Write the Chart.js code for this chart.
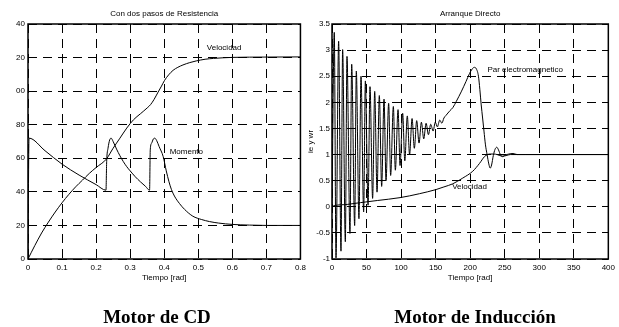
<!DOCTYPE html>
<html>
<head>
<meta charset="utf-8">
<script src="https://cdn.jsdelivr.net/npm/chart.js@4.4.0/dist/chart.umd.min.js"></script>
<style>
  body { margin: 0; background: #fff; width: 619px; height: 327px; overflow: hidden; position: relative; }
  canvas { position: absolute; top: 0; }
  #dc { left: 0; }
  #im { left: 300px; }
</style>
</head>
<body>
<canvas id="dc" width="310" height="327"></canvas>
<canvas id="im" width="319" height="327"></canvas>
<script>
// Motor de CD (two resistance steps)
const dcVelTime = [0, 0.02, 0.04, 0.06, 0.08, 0.1, 0.12, 0.14, 0.16, 0.18, 0.2, 0.23, 0.25, 0.27, 0.29, 0.31, 0.33, 0.35, 0.36, 0.37, 0.382, 0.392, 0.401, 0.413, 0.426, 0.44, 0.455, 0.475, 0.494, 0.52, 0.545, 0.6, 0.7, 0.8];
const dcVelocity = [0, 8, 15.5, 22, 28, 33.5, 38.5, 43, 47, 51, 54.5, 59.5, 66, 72, 78, 83, 86.5, 90, 92, 95, 99.4, 103, 106.4, 109.7, 112.4, 114.2, 115.6, 117, 118, 119, 119.5, 120.1, 120.3, 120.4];
const dcTorqueTime = [0, 0.003, 0.05, 0.1, 0.15, 0.2, 0.229, 0.231, 0.235, 0.24, 0.244, 0.25, 0.26, 0.27, 0.28, 0.29, 0.3, 0.315, 0.33, 0.345, 0.357, 0.359, 0.363, 0.368, 0.372, 0.378, 0.385, 0.397, 0.406, 0.414, 0.421, 0.43, 0.445, 0.46, 0.484, 0.51, 0.533, 0.56, 0.6, 0.65, 0.7, 0.8];
const dcTorque = [0, 72, 64.5, 56.5, 50, 44.3, 41, 58, 66, 71, 72, 70, 65.5, 61.5, 58, 55, 52.5, 49, 46, 43.3, 41, 65, 69, 71.5, 72, 70.5, 67, 61, 52.5, 46, 41.5, 37.5, 33, 29.5, 25.5, 23.5, 22.3, 21.4, 20.6, 20.2, 20, 20];
const dcTimeTicks = ['0', '0.1', '0.2', '0.3', '0.4', '0.5', '0.6', '0.7', '0.8'];
const dcLevelTicks = ['0', '20', '40', '60', '80', '00', '20', '40'];

// Motor de Inducción (direct start)
const imTorqueTime = [0, 3.3, 5.8, 9.6, 13, 15.4, 19.3, 21.7, 26, 28.5, 32.8, 35.2, 39, 42, 45.8, 48.3, 52.2, 55, 58.8, 61.8, 65.2, 68.5, 71.9, 75.3, 78.2, 82, 84.9, 88.8, 91.7, 95.6, 98.5, 102.3, 105.4, 109, 112.3, 115.9, 119.2, 122.6, 126, 129.4, 132.8, 136.2, 139.6, 142.9, 146.4, 149.5, 152.5, 156, 159, 162, 165, 170, 175, 180, 187, 194, 199, 203, 206, 209, 212, 214, 216, 218, 220, 222, 224.5, 227, 229, 231, 233.5, 236, 238.5, 241, 244, 247, 251, 256, 262, 268, 280, 400];
const imTorque = [0, 3.34, -0.98, 3.17, -0.85, 3.01, -0.67, 2.88, -0.51, 2.73, -0.36, 2.6, -0.23, 2.5, -0.1, 2.41, 0.03, 2.3, 0.16, 2.21, 0.28, 2.13, 0.39, 2.06, 0.5, 1.98, 0.6, 1.92, 0.7, 1.86, 0.79, 1.79, 0.88, 1.74, 1.0, 1.69, 1.12, 1.65, 1.22, 1.62, 1.3, 1.6, 1.38, 1.58, 1.45, 1.62, 1.53, 1.66, 1.6, 1.7, 1.75, 1.83, 1.9, 2.02, 2.2, 2.4, 2.55, 2.64, 2.67, 2.64, 2.5, 2.25, 1.95, 1.7, 1.45, 1.2, 1.0, 0.82, 0.74, 0.8, 0.98, 1.1, 1.14, 1.09, 0.99, 0.96, 0.99, 1.01, 1.02, 1.0, 1.0, 1.0];
const imVelTime = [0, 3, 22, 41.5, 65.6, 98.5, 126.5, 150.7, 162, 174.8, 189.3, 203.7, 213.5, 220.7, 225, 229, 234, 239, 243, 247, 252, 258, 270, 400];
const imVelocity = [0, 0.02, 0.045, 0.08, 0.12, 0.175, 0.25, 0.33, 0.38, 0.44, 0.55, 0.68, 0.83, 0.96, 1.0, 1.01, 1.01, 1.0, 0.98, 0.97, 0.98, 1.0, 1.0, 1.0];
const imTimeTicks = ['0', '50', '100', '150', '200', '250', '300', '350', '400'];
const imLevelTicks = ['-1', '-0.5', '0', '0.5', '1', '1.5', '2', '2.5', '3', '3.5'];

const pts = (xs, ys) => xs.map((x, i) => ({ x: x, y: ys[i] }));
const small = { family: '"Liberation Sans", Arial, sans-serif', size: 8 };

const framePlugin = {
  id: 'frame',
  afterDraw(chart, args, opts) {
    const { ctx, chartArea: a, scales } = chart;
    ctx.save();
    ctx.strokeStyle = '#000';
    ctx.lineWidth = 1.5;
    ctx.strokeRect(a.left, a.top, a.right - a.left, a.bottom - a.top);
    ctx.fillStyle = '#000';
    ctx.font = '8px "Liberation Sans", Arial, sans-serif';
    ctx.textAlign = 'center';
    ctx.textBaseline = 'middle';
    ctx.fillText(opts.title, (a.left + a.right) / 2, 14);
    ctx.textAlign = 'left';
    opts.notes.forEach(n => {
      ctx.fillText(n.text, scales.x.getPixelForValue(n.x), scales.y.getPixelForValue(n.y));
    });
    ctx.font = 'bold 19px "Liberation Serif", "Times New Roman", serif';
    ctx.textAlign = 'center';
    ctx.textBaseline = 'alphabetic';
    ctx.fillText(opts.caption, opts.captionX, 323);
    ctx.restore();
  }
};

function line(data) {
  return { data: data, borderColor: '#000', borderWidth: 1, pointRadius: 0, fill: false, cubicInterpolationMode: 'monotone' };
}

function axes(xMin, xMax, xStep, xLabels, yMin, yMax, yStep, yLabels, yWidth, yPad, yTitle) {
  return {
    x: {
      type: 'linear', min: xMin, max: xMax,
      afterFit: s => { s.height = 68; },
      grid: { color: '#000', lineWidth: 1, drawTicks: false },
      border: { display: false, dash: [9, 6] },
      ticks: { stepSize: xStep, padding: 4, color: '#000', font: small, maxRotation: 0,
        callback: v => xLabels[Math.round((v - xMin) / xStep)] },
      title: { display: true, text: 'Tiempo [rad]', color: '#000', font: small, padding: { top: 0, bottom: 44 } }
    },
    y: {
      min: yMin, max: yMax,
      afterFit: s => { s.width = yWidth; },
      grid: { color: '#000', lineWidth: 1, drawTicks: false },
      border: { display: false, dash: [9, 6] },
      ticks: { stepSize: yStep, padding: yPad, color: '#000', font: small,
        callback: v => yLabels[Math.round((v - yMin) / yStep)] },
      title: { display: !!yTitle, text: yTitle || '', color: '#000', font: small, padding: { top: 6, bottom: 0 } }
    }
  };
}

new Chart(document.getElementById('dc'), {
  type: 'line',
  data: { datasets: [line(pts(dcVelTime, dcVelocity)), line(pts(dcTorqueTime, dcTorque))] },
  options: {
    responsive: false,
    animation: false,
    layout: { padding: { left: 0, top: 24, right: 9, bottom: 0 } },
    plugins: {
      legend: { display: false },
      tooltip: { enabled: false },
      frame: {
        title: 'Con dos pasos de Resistencia',
        caption: 'Motor de CD', captionX: 157,
        notes: [{ text: 'Velocidad', x: 0.525, y: 126 }, { text: 'Momento', x: 0.416, y: 64 }]
      }
    },
    scales: axes(0, 0.8, 0.1, dcTimeTicks, 0, 140, 20, dcLevelTicks, 28, 3, null)
  },
  plugins: [framePlugin]
});

new Chart(document.getElementById('im'), {
  type: 'line',
  data: { datasets: [line(pts(imTorqueTime, imTorque)), line(pts(imVelTime, imVelocity))] },
  options: {
    responsive: false,
    animation: false,
    layout: { padding: { left: 0, top: 24, right: 10, bottom: 0 } },
    plugins: {
      legend: { display: false },
      tooltip: { enabled: false },
      frame: {
        title: 'Arranque Directo',
        caption: 'Motor de Inducción', captionX: 175,
        notes: [{ text: 'Par electromagnetico', x: 225, y: 2.62 }, { text: 'Velocidad', x: 174, y: 0.39 }]
      }
    },
    scales: axes(0, 400, 50, imTimeTicks, -1, 3.5, 0.5, imLevelTicks, 32, 2, 'ie y wr')
  },
  plugins: [framePlugin]
});
</script>
</body>
</html>
